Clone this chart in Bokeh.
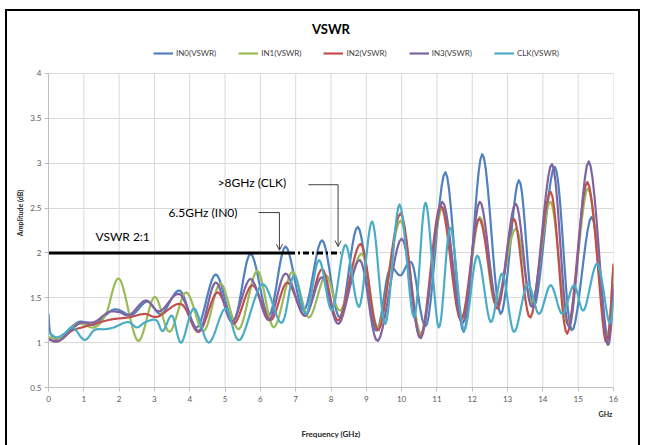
import numpy as np
from bokeh.plotting import figure
from bokeh.models import (Range1d, FixedTicker, NumeralTickFormatter, Legend, LegendItem,
                          Label, Arrow, OpenHead, LinearAxis)
from bokeh.embed import file_html
from bokeh.resources import INLINE

FONT = "Lato"

# ---------------- data ----------------
series_names = ["IN0(VSWR)", "IN1(VSWR)", "IN2(VSWR)", "IN3(VSWR)", "CLK(VSWR)"]
series_colors = ["#4F81BD", "#9BBB59", "#C0504D", "#8064A2", "#4BACC6"]

in0_f = [0, 0.06, 0.3, 0.85, 1.3, 1.85, 2.35, 2.8, 3.2, 3.72, 4.21, 4.73, 5.25, 5.72, 6.24, 6.71,
         7.23, 7.75, 8.25, 8.76, 9.26, 9.64, 9.97, 10.3, 10.72, 11.24, 11.76, 12.28, 12.8, 13.32,
         13.75, 14.34, 14.81, 15.38, 15.82, 16.0]
in0_v = [1.32, 1.1, 1.05, 1.23, 1.2, 1.37, 1.31, 1.46, 1.32, 1.58, 1.17, 1.76, 1.25, 1.99, 1.30, 2.07,
         1.36, 2.14, 1.28, 2.29, 1.14, 1.80, 1.75, 1.88, 1.21, 2.90, 1.12, 3.10, 1.32, 2.81,
         1.40, 2.96, 1.14, 2.40, 1.06, 1.65]

in1_f = [0, 0.36, 0.83, 1.3, 1.63, 2.01, 2.53, 3.0, 3.43, 3.9, 4.4, 4.87, 5.39, 5.91, 6.38, 6.9,
         7.37, 7.85, 8.27, 8.88, 9.35, 9.97, 10.55, 11.15, 11.7, 12.21, 12.66, 13.23, 13.7, 14.22,
         14.72, 15.28, 15.78, 16.0]
in1_v = [1.06, 1.06, 1.21, 1.17, 1.32, 1.71, 1.02, 1.51, 1.12, 1.56, 1.13, 1.66, 1.15, 1.80, 1.17, 1.79,
         1.28, 1.75, 1.36, 1.99, 1.17, 2.36, 1.10, 2.51, 1.28, 2.40, 1.43, 2.27, 1.45, 2.57,
         1.20, 2.72, 1.08, 1.85]

in2_f = [0, 0.3, 0.65, 0.95, 1.3, 1.8, 2.25, 2.72, 3.1, 3.76, 4.26, 4.78, 5.25, 5.77, 6.29, 6.76,
         7.28, 7.75, 8.22, 8.84, 9.35, 9.97, 10.53, 11.1, 11.67, 12.19, 12.71, 13.18, 13.65, 14.22,
         14.69, 15.26, 15.77, 16.0]
in2_v = [1.04, 1.02, 1.13, 1.17, 1.21, 1.26, 1.28, 1.32, 1.29, 1.43, 1.12, 1.56, 1.21, 1.64, 1.25, 1.67,
         1.30, 1.82, 1.25, 2.10, 1.14, 2.44, 1.06, 2.53, 1.25, 2.38, 1.38, 2.38, 1.28, 2.68,
         1.10, 2.79, 1.02, 1.88]

in3_f = [0, 0.3, 0.85, 1.3, 1.7, 2.0, 2.3, 2.75, 3.15, 3.72, 4.26, 4.73, 5.2, 5.72, 6.24, 6.71,
         7.25, 7.75, 8.22, 8.82, 9.33, 10.0, 10.55, 11.15, 11.72, 12.21, 12.71, 13.23, 13.7, 14.26,
         14.74, 15.3, 15.8, 16.0]
in3_v = [1.04, 1.02, 1.21, 1.23, 1.34, 1.34, 1.31, 1.47, 1.35, 1.54, 1.13, 1.67, 1.23, 1.71, 1.25, 1.77,
         1.30, 1.73, 1.21, 1.92, 1.02, 2.16, 1.05, 2.57, 1.21, 2.57, 1.43, 2.55, 1.40, 2.99,
         1.17, 3.02, 1.02, 1.60]

clk_f = [0, 0.22, 0.45, 0.69, 1.02, 1.3, 1.6, 1.85, 2.25, 2.5, 2.75, 3.05, 3.24, 3.5, 3.76, 4.12,
         4.54, 5.01, 5.42, 6.05, 6.6, 6.95, 7.3, 7.66, 8.03, 8.41, 8.8, 9.17, 9.54, 9.94, 10.35,
         10.68, 11.05, 11.38, 11.76, 12.14, 12.52, 12.85, 13.18, 13.56, 13.89, 14.22, 14.55, 14.88,
         15.16, 15.54, 15.87, 16.0]
clk_v = [1.12, 1.06, 1.10, 1.17, 1.03, 1.14, 1.15, 1.17, 1.23, 1.17, 1.23, 1.25, 1.13, 1.30, 1.00, 1.38,
         1.00, 1.38, 1.03, 1.65, 1.22, 1.75, 1.32, 1.92, 1.36, 2.09, 1.40, 2.35, 1.21, 2.54, 1.28,
         2.56, 1.17, 2.28, 1.14, 1.97, 1.23, 1.77, 1.12, 1.65, 1.32, 1.64, 1.32, 1.64,
         1.36, 1.88, 1.23, 1.47]

x_ticks = list(range(0, 17))
y_ticks = [0.5, 1.0, 1.5, 2.0, 2.5, 3.0, 3.5, 4.0]
y_min, y_max = 0.5, 4.0
unit_label = "GHz"
vswr_limit = 2.0


def smooth(xs, ys, n=10):
    """Excel-style smoothed line drawn through the read points (Catmull-Rom)."""
    P = np.column_stack([np.asarray(xs, float), np.asarray(ys, float)])
    P = np.vstack([P[0], P, P[-1]])
    t = np.linspace(0, 1, n, endpoint=False)[:, None]
    out = []
    for i in range(1, len(P) - 2):
        p0, p1, p2, p3 = P[i - 1], P[i], P[i + 1], P[i + 2]
        seg = 0.5 * (2 * p1 + (-p0 + p2) * t + (2 * p0 - 5 * p1 + 4 * p2 - p3) * t ** 2
                     + (-p0 + 3 * p1 - 3 * p2 + p3) * t ** 3)
        out.append(seg)
    out.append(P[-2][None, :])
    S = np.vstack(out)
    return S[:, 0], S[:, 1]


# frame: x 48..613 px, y 38..387 px (the strip above y=4 holds the legend)
p = figure(width=640, height=445,
           x_range=Range1d(0, 16), y_range=Range1d(y_min, 4.39),
           output_backend="svg", toolbar_location=None,
           min_border_left=48, min_border_right=27, min_border_top=38, min_border_bottom=58)

p.border_fill_color = None
p.background_fill_color = "white"
p.outline_line_color = None
p.styles = {"box-shadow": ("inset 5px 9px 0 0 #ffffff, inset 7px 11px 0 0 #000000, "
                           "inset -2px 0 0 0 #000000")}

# title
p.title.text = "VSWR"
p.title.align = "center"
p.title.offset = -7
p.title.standoff = 4
p.title.text_font = FONT
p.title.text_font_size = "13px"
p.title.text_font_style = "bold"
p.title.text_color = "#000000"

# grid
grid_col = "#D9D9D9"
p.xgrid.grid_line_color = None
p.ygrid.grid_line_color = grid_col
p.ygrid.ticker = FixedTicker(ticks=y_ticks)
p.segment(x0=x_ticks, y0=[y_min] * len(x_ticks), x1=x_ticks, y1=[y_max] * len(x_ticks),
          line_color=grid_col, line_width=1)

# axes
p.xaxis.ticker = FixedTicker(ticks=x_ticks)
p.yaxis.ticker = FixedTicker(ticks=y_ticks)
p.yaxis.bounds = (y_min, y_max)
p.yaxis.formatter = NumeralTickFormatter(format="0.[0]")
for ax in (p.xaxis[0], p.yaxis[0]):
    ax.axis_line_color = "#BFBFBF"
    ax.major_tick_line_color = "#BFBFBF"
    ax.major_tick_out = 4
    ax.major_tick_in = 0
    ax.minor_tick_line_color = None
    ax.major_label_text_font = FONT
    ax.major_label_text_font_size = "8px"
    ax.major_label_text_color = "#595959"
    ax.axis_label_text_font = FONT
    ax.axis_label_text_font_style = "bold"
    ax.axis_label_text_color = "#262626"
p.xaxis.major_label_standoff = 4
p.yaxis.axis_label = "Amplitude (dB)"
p.yaxis.axis_label_text_font_size = "7px"
p.yaxis.axis_label_standoff = 3
p.yaxis.major_label_standoff = 3

# second (label-only) axis below: "GHz" unit mark and the axis title
ax2 = LinearAxis(ticker=FixedTicker(ticks=[15.77]), major_label_overrides={15.77: unit_label},
                 axis_line_color=None, major_tick_line_color=None, minor_tick_line_color=None,
                 major_tick_out=0, major_tick_in=0, major_label_standoff=5,
                 major_label_text_font=FONT, major_label_text_font_size="7px",
                 major_label_text_font_style="bold", major_label_text_color="#262626",
                 axis_label="Frequency (GHz)", axis_label_standoff=8,
                 axis_label_text_font=FONT, axis_label_text_font_size="8px",
                 axis_label_text_font_style="bold", axis_label_text_color="#262626")
p.add_layout(ax2, "below")

# series
data = [(in0_f, in0_v), (in1_f, in1_v), (in2_f, in2_v), (in3_f, in3_v), (clk_f, clk_v)]
items = []
for (fx, fv), name, col in zip(data, series_names, series_colors):
    sx, sy = smooth(fx, fv)
    r = p.line(sx, sy, line_color=col, line_width=2.2, line_join="round")
    items.append(LegendItem(label=name, renderers=[r]))

legend = Legend(items=items, orientation="horizontal", location=(105, 329),
                label_text_font=FONT, label_text_font_size="8px", label_text_color="#404040",
                glyph_width=20, glyph_height=8, label_height=8, spacing=22, label_standoff=3,
                border_line_color=None, background_fill_alpha=0, padding=0, margin=0)
p.add_layout(legend, "center")

# VSWR 2:1 reference line and annotations
p.line([0, 6.81], [vswr_limit, vswr_limit], line_color="black", line_width=3)
p.line([6.81, 8.27], [vswr_limit, vswr_limit], line_color="black", line_width=3, line_dash="6 3 2 3")

txt = dict(text_font=FONT, text_font_size="12px", text_color="#000000")
p.add_layout(Label(x=1.33, y=2.105, text="VSWR 2:1", **txt))
p.add_layout(Label(x=3.40, y=2.37, text="6.5GHz (IN0)", **txt))
p.add_layout(Label(x=4.79, y=2.70, text=">8GHz (CLK)", **txt))

arrow_col = "#404040"
p.line([5.95, 6.54], [2.45, 2.45], line_color=arrow_col, line_width=1)
p.add_layout(Arrow(end=OpenHead(size=6, line_color=arrow_col, line_width=1),
                   x_start=6.54, y_start=2.45, x_end=6.54, y_end=2.03,
                   line_color=arrow_col, line_width=1))
p.line([7.36, 8.2], [2.76, 2.76], line_color=arrow_col, line_width=1)
p.add_layout(Arrow(end=OpenHead(size=6, line_color=arrow_col, line_width=1),
                   x_start=8.2, y_start=2.76, x_end=8.2, y_end=2.07,
                   line_color=arrow_col, line_width=1))

open("out.html", "w").write(file_html(p, INLINE))
